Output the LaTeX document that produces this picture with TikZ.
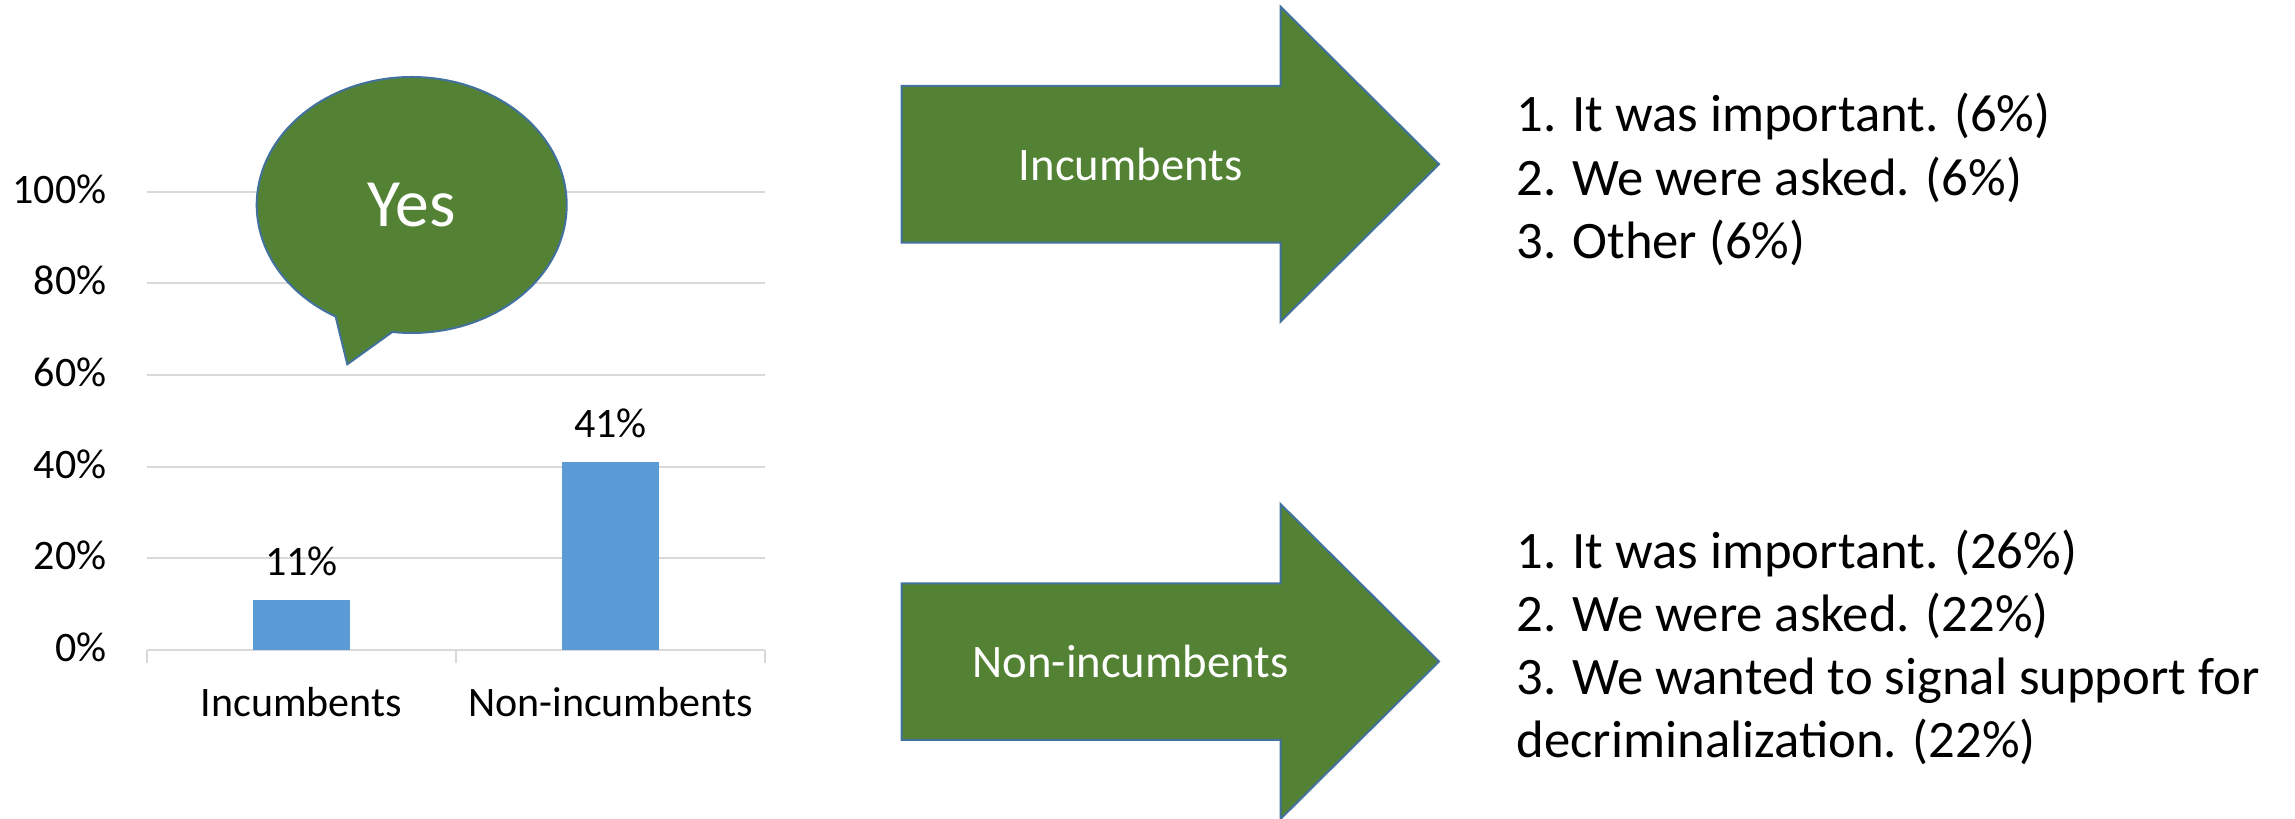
\documentclass[tikz,border=0pt]{standalone}
\usepackage{fontspec}
\setmainfont{Carlito}
\definecolor{shapegreen}{HTML}{548235}
\definecolor{shapeline}{HTML}{41719C}
\definecolor{barblue}{HTML}{5B9BD5}
\definecolor{gridgray}{HTML}{D9D9D9}
\begin{document}
\begin{tikzpicture}[x=0.3pt,y=-0.3pt,
  gridline/.style={draw=gridgray,line width=0.6pt},
  barfill/.style={fill=barblue},
  greenshape/.style={fill=shapegreen,draw=shapeline,line width=0.6pt,line join=miter},
  axlabel/.style={inner sep=0pt,font=\fontsize{12.6}{15}\selectfont,text=black},
  arrowlabel/.style={inner sep=0pt,anchor=base,font=\fontsize{14}{17}\selectfont,text=white},
  listtext/.style={inner sep=0pt,anchor=base west,font=\fontsize{15.8}{19}\selectfont,text=black}]
\useasboundingbox (0,0) rectangle (2295,819);
% chart grid
\foreach \k in {1,...,5} \draw[gridline] (146.7,{650-91.66*\k}) -- (765,{650-91.66*\k});
\draw[gridline] (146.7,650) -- (765,650);
\foreach \x in {146.7,456,765} \draw[gridline] (\x,650) -- (\x,663);
% axis labels
\foreach \k/\t in {0/0\%,1/20\%,2/40\%,3/60\%,4/80\%,5/100\%}
  \node[axlabel,anchor=base east] (ax\k) at (107,{650-91.66*\k+11.5}) {\t};
% bars
\fill[barfill] (253,650) rectangle (350,599.6);
\fill[barfill] (562,650) rectangle (659,462);
\node[axlabel,anchor=base] (v1) at (301.5,576) {11\%};
\node[axlabel,anchor=base] (v2) at (610.5,438) {41\%};
\node[axlabel,anchor=base] (c1) at (301.5,716.5) {Incumbents};
\node[axlabel,anchor=base] (c2) at (610.5,716.5) {Non-incumbents};
% speech bubble
\draw[greenshape] plot[domain=119.4:457.2,samples=160] ({411.7+155*cos(\x)},{205+128*sin(\x)}) -- (347.3,364.3) -- cycle;
\node[inner sep=0pt,anchor=base,text=white,font=\fontsize{20.3}{24}\selectfont] (yes) at (411.7,226.7) {Yes};
% arrows
\draw[greenshape] (901.5,86) -- (1280.5,86) -- (1280.5,6.7) -- (1439,164.2) -- (1280.5,321.7) -- (1280.5,242.7) -- (901.5,242.7) -- cycle;
\node[arrowlabel] (a1) at (1130.5,181) {Incumbents};
\begin{scope}[shift={(0,497.3)}]
\draw[greenshape] (901.5,86) -- (1280.5,86) -- (1280.5,6.7) -- (1439,164.2) -- (1280.5,321.7) -- (1280.5,242.7) -- (901.5,242.7) -- cycle;
\end{scope}
\node[arrowlabel] (a2) at (1130.5,677.3) {Non-incumbents};
% lists
\node[listtext] (l11) at (1516,131.7) {1. It was important. (6\%)};
\node[listtext] (l12) at (1516,195.7) {2. We were asked. (6\%)};
\node[listtext] (l13) at (1516,259) {3. Other (6\%)};
\node[listtext] (l21) at (1516,568.3) {1. It was important. (26\%)};
\node[listtext] (l22) at (1516,631.7) {2. We were asked. (22\%)};
\node[listtext] (l23) at (1516,694.5) {3. We wanted to signal support for};
\node[listtext] (l24) at (1516,757.3) {decriminalization. (22\%)};
\end{tikzpicture}
\end{document}
